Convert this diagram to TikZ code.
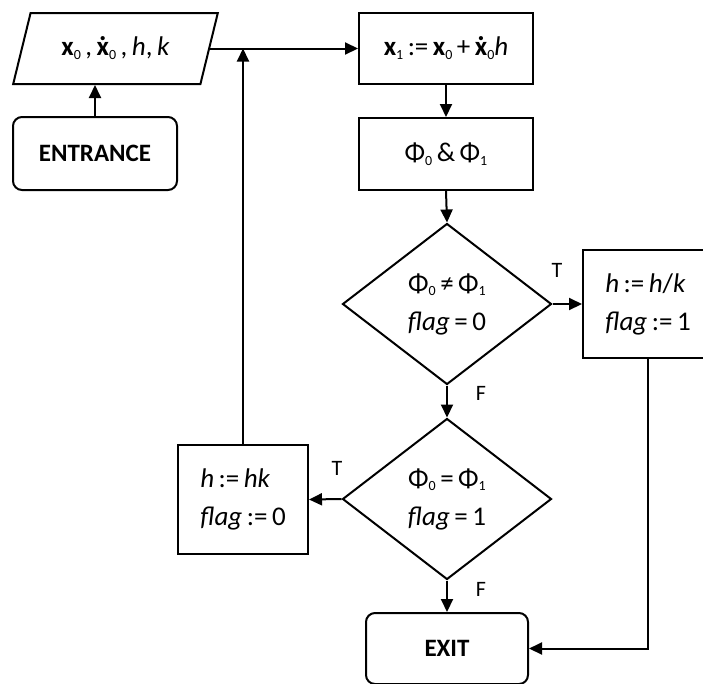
\documentclass[tikz,border=0pt]{standalone}
\usepackage{fontspec}
\setmainfont{Carlito}
\usetikzlibrary{shapes.geometric,arrows.meta}
\newcommand\sbs[1]{\raisebox{-0.3ex}{\fontsize{14}{14}\selectfont #1}}
\newcommand\bx{\textbf{x}}
\newcommand\bxd{\textbf{\ooalign{x\cr\hidewidth˙\hidewidth\cr}}}
\newcommand\fl{\textit{flag}}
\begin{document}
\begin{tikzpicture}[x=1pt,y=-1pt,
  every node/.style={font=\fontsize{27}{38}\selectfont},
  conn/.style={line width=2pt},
  arr/.style={conn,-{Triangle[length=13pt,width=12pt]}},
  boxx/.style={draw,line width=2pt,rectangle,inner sep=0pt},
  term/.style={boxx,rounded corners=9pt,font=\fontsize{25}{30}\selectfont\bfseries},
  dec/.style={draw,line width=2pt,diamond,aspect=1.3,inner sep=0pt,minimum width=209pt,minimum height=161pt,align=center},
  lbl/.style={font=\fontsize{22}{24}\selectfont}]
\useasboundingbox (0,0) rectangle (703,683);
\clip (0,0) rectangle (703,683);
\node[draw,line width=2pt,trapezium,trapezium left angle=64,trapezium right angle=116,
      trapezium stretches=true,minimum width=205pt,minimum height=71pt,inner sep=0pt]
      (par) at (115.5,48.5) {\bx\sbs{0}\,,\,\bxd\sbs{0}\,,\,\textit{h},\,\textit{k}};
\node[term,minimum width=164pt,minimum height=73pt] (entr) at (95,153.5) {ENTRANCE};
\node[boxx,minimum width=174pt,minimum height=71pt] (b1) at (446,48.5)
      {\bx\sbs{1}\,:=\,\bx\sbs{0}\,+\,\bxd\sbs{0}\textit{h}};
\node[boxx,minimum width=174pt,minimum height=72pt] (b2) at (446,154)
      {Φ\sbs{0}\,\&\,Φ\sbs{1}};
\node[dec] (d1) at (447,304) {Φ\sbs{0}\,≠\,Φ\sbs{1}\\ \fl\,=\,0};
\node[dec] (d2) at (447,499) {Φ\sbs{0}\,=\,Φ\sbs{1}\\ \fl\,=\,1};
\node[boxx,minimum width=130pt,minimum height=108pt,align=left] (b3) at (648,304)
      {\textit{h}\,:=\,\textit{h}/\textit{k}\\ \fl\,:=\,1};
\node[boxx,minimum width=130pt,minimum height=109pt,align=left] (b4) at (243,499.5)
      {\textit{h}\,:=\,\textit{hk}\\ \fl\,:=\,0};
\node[term,minimum width=162pt,minimum height=71pt] (exit) at (447,648.5) {EXIT};
\node[lbl] (t1) at (557,270) {T};
\node[lbl] (f1) at (481,393) {F};
\node[lbl] (t2) at (337,468) {T};
\node[lbl] (f2) at (481,589) {F};
\draw[arr] (entr.north) -- (entr.north |- par.south);
\draw[arr] (par.east) -- (par.east -| b1.west);
\draw[arr] (b1.south) -- (b2.north);
\draw[arr] (b2.south) -- (d1.north);
\draw[arr] (d1.east) -- (b3.west);
\draw[arr] (d1.south) -- (d2.north);
\draw[arr] (d2.west) -- (b4.east);
\draw[arr] (d2.south) -- (exit.north);
\draw[arr] (b3.south) -- (b3.south |- exit.east) -- (exit.east);
\draw[arr] (b4.north) -- (b4.north |- par.east);
\end{tikzpicture}
\end{document}
